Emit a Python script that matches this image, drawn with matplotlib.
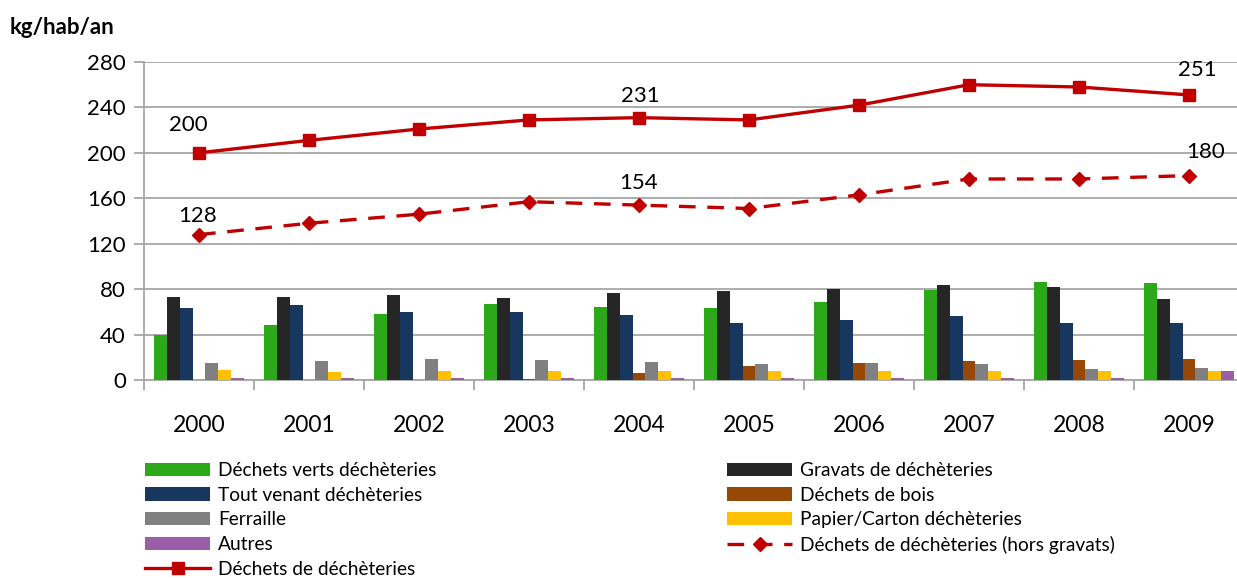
import matplotlib.pyplot as plt
import numpy as np

plt.rcParams['font.family'] = ['Lato', 'DejaVu Sans']

years = ['2000', '2001', '2002', '2003', '2004', '2005', '2006', '2007', '2008', '2009']

## bar series (kg/hab/an)
verts = [40, 48, 58, 67, 64, 63, 69, 79, 86, 85]
gravats = [73, 73, 75, 72, 77, 78, 80, 84, 82, 71]
tout_venant = [63, 66, 60, 60, 57, 50, 53, 56, 50, 50]
bois = [0, 0, 0.3, 1.2, 6, 12, 15, 16.5, 17.5, 18.5]
ferraille = [15, 16.5, 18.5, 17.5, 15.5, 14, 15, 14, 9.5, 10.5]
papier = [8.5, 7, 8, 8, 8, 8, 8, 8, 8, 8]
autres = [1.5, 1.5, 1.5, 1.5, 2, 2, 2, 2, 2, 8]

## line series
total = [200, 211, 221, 229, 231, 229, 242, 260, 258, 251]
hors_gravats = [128, 138, 146, 157, 154, 151, 163, 177, 177, 180]

bar_series = [
    ('Déchets verts déchèteries', verts, '#2CA81A'),
    ('Gravats de déchèteries', gravats, '#262626'),
    ('Tout venant déchèteries', tout_venant, '#17375E'),
    ('Déchets de bois', bois, '#974806'),
    ('Ferraille', ferraille, '#808080'),
    ('Papier/Carton déchèteries', papier, '#FFC000'),
    ('Autres', autres, '#9A5EA6'),
]

fig = plt.figure(figsize=(12.37, 5.78), dpi=100)
ax = fig.add_axes([144 / 1237, 198 / 578, 1100 / 1237, 318 / 578])

x = np.arange(len(years))
w = 0.118
handles = {}
for i, (name, vals, col) in enumerate(bar_series):
    b = ax.bar(x + (i - 3) * w, vals, width=w, color=col, zorder=3, label=name)
    handles[name] = b

red = '#C00000'
l_tot, = ax.plot(x, total, color=red, lw=2.4, marker='s', markersize=9, zorder=4,
                 label='Déchets de déchèteries')
l_hg, = ax.plot(x, hors_gravats, color=red, lw=2.4, ls=(0, (5, 3.5)), marker='D',
                markersize=7, zorder=4, label='Déchets de déchèteries (hors gravats)')

## étiquettes de données
labels = [(0, total, -11, 28), (4, total, 1, 22), (9, total, 8, 25),
          (0, hors_gravats, -1, 19), (4, hors_gravats, 0, 22), (9, hors_gravats, 17, 24)]
for idx, serie, dx, dy in labels:
    ax.annotate(str(serie[idx]), (x[idx], serie[idx]), xytext=(dx, dy),
                textcoords='offset pixels', ha='center', va='center', fontsize=16)

ax.set_xlim(-0.5, 9.5)
ax.set_ylim(0, 280)
ax.set_yticks(range(0, 281, 40))
ax.grid(axis='y', color='#A6A6A6', lw=1.3, zorder=0)
ax.set_axisbelow(True)

for s in ['top', 'right']:
    ax.spines[s].set_visible(False)
for s in ['left', 'bottom']:
    ax.spines[s].set_color('#A6A6A6')
    ax.spines[s].set_linewidth(1.3)

ax.set_xticks(x)
ax.set_xticklabels(years)
ax.set_xticks(np.arange(-0.5, 10, 1), minor=True)
ax.tick_params(axis='x', which='major', length=0, pad=25, labelsize=16.5)
ax.tick_params(axis='x', which='minor', length=7, width=1.3, color='#A6A6A6')
ax.tick_params(axis='y', length=7, width=1.3, color='#A6A6A6', labelsize=16, pad=6)

fig.text(10 / 1237, 1 - 28 / 578, 'kg/hab/an', fontsize=16, fontweight='bold', va='center')

left_items = ['Déchets verts déchèteries', 'Tout venant déchèteries', 'Ferraille', 'Autres']
right_items = ['Gravats de déchèteries', 'Déchets de bois', 'Papier/Carton déchèteries']

leg_kw = dict(frameon=False, fontsize=13.8, handlelength=3.4, handletextpad=0.42,
              labelspacing=0.4, borderpad=0, borderaxespad=0, loc='upper left')
leg1 = fig.legend([handles[n] for n in left_items] + [l_tot], left_items + ['Déchets de déchèteries'],
                  bbox_to_anchor=(145 / 1237, 1 - 462 / 578), **leg_kw)
leg2 = fig.legend([handles[n] for n in right_items] + [l_hg], right_items + ['Déchets de déchèteries (hors gravats)'],
                  bbox_to_anchor=(727 / 1237, 1 - 462 / 578), **leg_kw)

fig.savefig('out.png', dpi=100)
